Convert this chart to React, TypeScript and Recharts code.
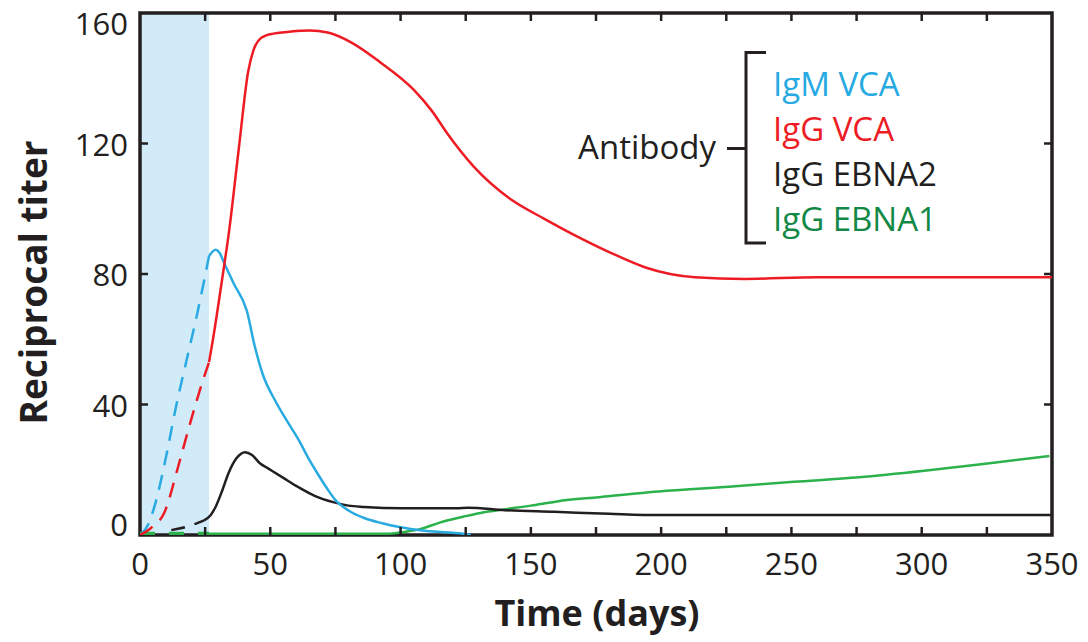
import { Customized, Line, LineChart, ReferenceArea, XAxis, YAxis } from "recharts";

const FONT = '"Open Sans", "Noto Sans", sans-serif';
const INK = "#231f20";

const xTicks = [0, 25, 50, 75, 100, 125, 150, 175, 200, 225, 250, 275, 300, 325, 350];
const yTicks = [0, 40, 80, 120, 160];

// window shaded in blue (days)
const incubation = [0, 26.5];

type Pt = [number, number]; // [day, titer]

const igmVcaEarly: Pt[] = [
  [0, 0], [3, 3], [6, 10], [10, 24], [14, 40], [18, 54], [22, 68], [26.5, 85.5],
];
const igmVca: Pt[] = [
  [26.5, 85.5], [29, 87.4], [30.5, 86.5], [32.5, 83], [36, 77], [41, 68.7], [44, 58],
  [47, 49.5], [52, 41], [56, 35.5], [61, 29], [65, 23], [68, 19], [72, 14], [75, 10.7],
  [80, 7.5], [86, 5.2], [93, 3.6], [99, 2.5], [110, 1.2], [124, 0.4], [127, 0],
];

const iggVcaEarly: Pt[] = [
  [0, 0], [4, 2], [9.4, 7], [15, 22], [19.5, 35], [24, 47], [26.5, 53],
];
const iggVca: Pt[] = [
  [26.5, 53], [28, 60], [32, 81], [34, 92], [38, 119], [41.5, 142], [43.5, 148.5],
  [46, 152], [50, 153.5], [58, 154.3], [65, 154.6], [72, 154], [81, 151], [92, 145],
  [105, 136.5], [112, 130], [118, 123], [128, 113], [143, 102.5], [155, 97], [169, 91],
  [182, 86], [194, 82], [213, 79], [232, 78.5], [260, 79], [300, 79], [350, 79],
];

const iggEbna2Early: Pt[] = [
  [12, 1.5], [19, 2.8], [24.6, 4.5],
];
const iggEbna2: Pt[] = [
  [24.6, 4.5], [27, 6], [29, 8.6], [31.5, 13.5], [34, 19], [37, 23.5], [40.3, 25.4],
  [43, 24.5], [46, 22], [49, 20.5], [55, 17.5], [60.7, 14.7], [67, 12], [74.5, 10],
  [80, 9], [86, 8.6], [101, 8.2], [121.5, 8.2], [126, 8.35], [140, 7.6], [159, 7.1],
  [180, 6.5], [199, 6.1], [250, 6.1], [350, 6.1],
];

const iggEbna1Early: Pt[] = [
  [0, 0.4], [26.5, 0.4],
];
const iggEbna1: Pt[] = [
  [26.5, 0.4], [60, 0.4], [96, 0.4], [102, 1], [107.5, 1.8], [115, 3.8], [124, 5.6],
  [132, 7], [141, 8], [150, 9], [160, 10.3], [176, 11.6], [201, 13.5], [226, 14.8],
  [251, 16.3], [276, 17.7], [301, 19.7], [326, 22], [349, 24.2],
];

const legendLabels = ["IgM VCA", "IgG VCA", "IgG EBNA2", "IgG EBNA1"];
const legendColors = ["#27a9e1", "#ed1c24", INK, "#118845"];

const BLUE = "#29abe2";
const RED = "#ed1c24";
const GREEN = "#2bb24c";

const toRows = (pts: Pt[]) => pts.map(([day, titer]) => ({ day, titer }));

function BottomTick({ x, y, payload }: any) {
  const v = payload.value;
  return (
    <g>
      {v > 0 && v < 350 && (
        <line x1={x} y1={y} x2={x} y2={y - 8} stroke={INK} strokeWidth={2.5} />
      )}
      {v % 50 === 0 && (
        <text x={x} y={y + 40} textAnchor="middle" fontSize={31} fontFamily={FONT} fill={INK}>
          {v}
        </text>
      )}
    </g>
  );
}

function TopTick({ x, y, payload }: any) {
  const v = payload.value;
  if (v <= 0 || v >= 350) return <g />;
  return <line x1={x} y1={y} x2={x} y2={y + 8} stroke={INK} strokeWidth={2.5} />;
}

function LeftTick({ x, y, payload }: any) {
  const v = payload.value;
  const dy = v === 160 ? 22 : v === 0 ? 1 : 12;
  return (
    <g>
      {v > 0 && v < 160 && (
        <line x1={x} y1={y} x2={x + 8} y2={y} stroke={INK} strokeWidth={2.5} />
      )}
      <text x={x - 12} y={y + dy} textAnchor="end" fontSize={31} fontFamily={FONT} fill={INK}>
        {v}
      </text>
    </g>
  );
}

function RightTick({ x, y, payload }: any) {
  const v = payload.value;
  if (v <= 0 || v >= 160) return <g />;
  return <line x1={x} y1={y} x2={x - 8} y2={y} stroke={INK} strokeWidth={2.5} />;
}

function Annotation() {
  return (
    <g fontFamily={FONT}>
      <text x={716} y={159} textAnchor="end" fontSize={33} fill={INK}>
        Antibody
      </text>
      <path
        d="M727 148.5 H746 M766 52.5 H746 V243 H766"
        stroke={INK}
        strokeWidth={3}
        fill="none"
      />
      {legendLabels.map((label, i) => (
        <text key={label} x={773} y={96 + i * 45} fontSize={33} fill={legendColors[i]}>
          {label}
        </text>
      ))}
      <text x={597} y={626} textAnchor="middle" fontSize={36} fontWeight={700} fill={INK}>
        Time (days)
      </text>
      <text
        x={47}
        y={282.5}
        transform="rotate(-90 47 282.5)"
        textAnchor="middle"
        fontSize={37}
        fontWeight={700}
        fill={INK}
      >
        Reciprocal titer
      </text>
    </g>
  );
}

export default function App() {
  const line = {
    type: "monotone" as const,
    dataKey: "titer",
    dot: false,
    activeDot: false,
    isAnimationActive: false,
    strokeWidth: 2.5,
  };
  return (
    <div style={{ position: "absolute", left: 0, top: 0, background: "#fff" }}>
      <LineChart width={1088} height={642} margin={{ top: 0, right: 0, bottom: 0, left: 0 }}>
        <XAxis
          dataKey="day"
          type="number"
          domain={[0, 350]}
          ticks={xTicks}
          interval={0}
          height={107}
          tickSize={0}
          tickMargin={0}
          axisLine={false}
          tickLine={false}
          tick={BottomTick}
          allowDataOverflow
        />
        <XAxis
          xAxisId="top"
          orientation="top"
          dataKey="day"
          type="number"
          domain={[0, 350]}
          ticks={xTicks}
          interval={0}
          height={13}
          tickSize={0}
          tickMargin={0}
          axisLine={false}
          tickLine={false}
          tick={TopTick}
          allowDataOverflow
        />
        <YAxis
          type="number"
          domain={[0, 160]}
          ticks={yTicks}
          interval={0}
          width={140}
          tickSize={0}
          tickMargin={0}
          axisLine={false}
          tickLine={false}
          tick={LeftTick}
          allowDataOverflow
        />
        <YAxis
          yAxisId="right"
          orientation="right"
          type="number"
          domain={[0, 160]}
          ticks={yTicks}
          interval={0}
          width={36}
          tickSize={0}
          tickMargin={0}
          axisLine={false}
          tickLine={false}
          tick={RightTick}
          allowDataOverflow
        />
        <ReferenceArea
          x1={incubation[0]}
          x2={incubation[1]}
          y1={0}
          y2={160}
          fill="#d1ebf9"
          fillOpacity={1}
          stroke="none"
        />
        <Line {...line} data={toRows(iggEbna1Early)} stroke={GREEN} strokeWidth={4} strokeDasharray="15 14" />
        <Line {...line} data={toRows(iggEbna1)} stroke={GREEN} />
        <Line {...line} data={toRows(iggEbna2Early)} stroke={INK} strokeDasharray="14 10" />
        <Line {...line} data={toRows(iggEbna2)} stroke={INK} />
        <Line {...line} data={toRows(igmVcaEarly)} stroke={BLUE} strokeDasharray="15 10" />
        <Line {...line} data={toRows(igmVca)} stroke={BLUE} />
        <Line {...line} data={toRows(iggVcaEarly)} stroke={RED} strokeDasharray="15 10" />
        <Line {...line} data={toRows(iggVca)} stroke={RED} />
        <ReferenceArea
          x1={0}
          x2={350}
          y1={0}
          y2={160}
          fill="none"
          fillOpacity={0}
          stroke={INK}
          strokeWidth={3.5}
        />
        <Customized component={<Annotation />} />
      </LineChart>
    </div>
  );
}
